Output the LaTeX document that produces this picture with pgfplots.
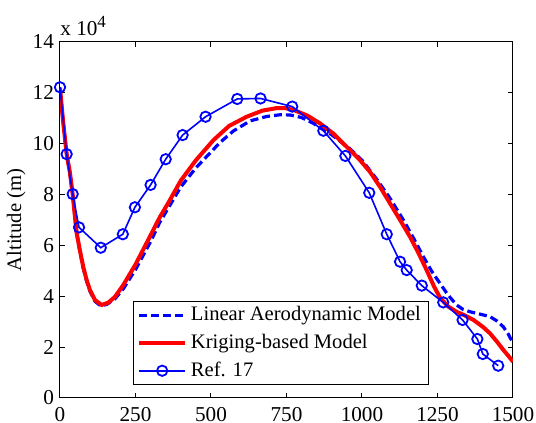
\documentclass[border=0pt]{standalone}
\usepackage{fontspec}
\setmainfont{Liberation Serif}
\usepackage{pgfplots}
\pgfplotsset{compat=1.18}
\usetikzlibrary{calc}
\definecolor{mblue}{RGB}{0,0,255}
\definecolor{mred}{RGB}{255,0,0}

\begin{document}
\begin{tikzpicture}
\begin{axis}[
  name=ax,
  scale only axis,
  width=226.5pt,
  height=178pt,
  xmin=0, xmax=1500,
  ymin=0, ymax=14,
  xtick={0,250,500,750,1000,1250,1500},
  ytick={0,2,4,6,8,10,12,14},
  tick align=inside,
  tick pos=both,
  major tick length=2.5pt,
  tick style={black, line width=0.5pt},
  axis line style={black, line width=0.5pt},
  /pgf/number format/assume math mode=true,
  /pgf/number format/1000 sep={},
  tick label style={font=\fontsize{10.6}{12}\selectfont},
  xticklabel style={yshift=-1pt},
  yticklabel style={xshift=0.5pt},
  ylabel={Altitude (m)},
  every axis y label/.style={at={(rel axis cs:0,0.5)}, rotate=90, anchor=south, inner sep=0pt,
    yshift=17pt, font=\fontsize{10.3}{12}\selectfont},
  legend style={at={(0.161,0.0365)}, anchor=south west, draw=black, line width=0.5pt,
    inner xsep=2pt, inner ysep=0.5pt, row sep=1.2pt, cells={anchor=west},
    font=\fontsize{10.3}{12}\selectfont},
  legend image code/.code={\draw[mark repeat=2,mark phase=2,#1] plot coordinates {(0cm,0cm) (0.4cm,0cm) (0.8cm,0cm)};},
]
\addplot[mblue, line width=1.6pt, dash pattern=on 4pt off 2pt] coordinates {
  (0,12.2)(10,10.9)(22,9.6)(33,8.85)(42,8.0)(55,6.5)(66,5.75)(77,5.1)(88,4.6)(99,4.2)
  (116,3.8)(135,3.62)(155,3.68)(182,3.9)(210,4.3)(250,5.05)(300,6.15)(330,6.9)(360,7.5)
  (400,8.3)(450,9.05)(486,9.5)(530,10.05)(574,10.5)(630,10.9)(684,11.07)(730,11.14)
  (762,11.13)(800,11.03)(839,10.8)(900,10.35)(960,9.8)(1000,9.35)(1049,8.6)(1093,7.85)
  (1137,7.0)(1170,6.3)(1203,5.56)(1230,5.0)(1258,4.51)(1285,4.05)(1313,3.66)(1335,3.48)
  (1358,3.39)(1390,3.3)(1424,3.2)(1448,3.02)(1468,2.8)(1485,2.5)(1500,2.15)
};
\addplot[mred, line width=2pt] coordinates {
  (0,12.2)(10,10.9)(22,9.6)(33,8.85)(42,8.0)(55,6.5)(66,5.8)(77,5.16)(88,4.65)(99,4.25)
  (116,3.85)(138,3.66)(160,3.75)(182,3.98)(210,4.45)(250,5.25)(300,6.4)(330,7.1)(360,7.7)
  (400,8.55)(450,9.35)(508,10.14)(560,10.7)(618,11.06)(670,11.3)(717,11.4)(745,11.4)
  (773,11.33)(820,11.1)(861,10.8)(905,10.4)(949,9.88)(990,9.4)(1026,8.9)(1060,8.3)
  (1093,7.65)(1126,7.0)(1159,6.34)(1187,5.7)(1214,5.03)(1238,4.4)(1258,3.95)(1285,3.6)
  (1313,3.39)(1340,3.25)(1369,3.07)(1400,2.8)(1424,2.54)(1448,2.2)(1468,1.89)(1485,1.65)
  (1500,1.43)
};
\addplot[mblue, line width=0.8pt, mark=o, mark size=2.6pt, mark options={solid, line width=0.9pt}] coordinates {
  (0,12.22)(22,9.59)(42,8.02)(63,6.71)(135,5.91)(208,6.44)(248,7.50)(300,8.38)(350,9.39)
  (406,10.34)(482,11.06)(587,11.76)(664,11.78)(769,11.46)(872,10.51)(945,9.52)(1024,8.07)
  (1082,6.44)(1126,5.36)(1148,5.03)(1198,4.42)(1269,3.76)(1333,3.07)(1382,2.32)(1400,1.73)
  (1451,1.27)
};
\legend{Linear Aerodynamic Model, Kriging-based Model, Ref. 17}
\end{axis}
\node[anchor=base west, inner sep=0pt, font=\fontsize{10.6}{12}\selectfont] at ($(ax.north west)+(0,3pt)$) {x 10\raisebox{0.9ex}{\fontsize{8.5}{10}\selectfont 4}};
\pgfresetboundingbox
\path[use as bounding box] ($(ax.south west)+(-30pt,-12.5pt)$) rectangle ($(ax.north east)+(11.5pt,21pt)$);
\end{tikzpicture}
\end{document}
